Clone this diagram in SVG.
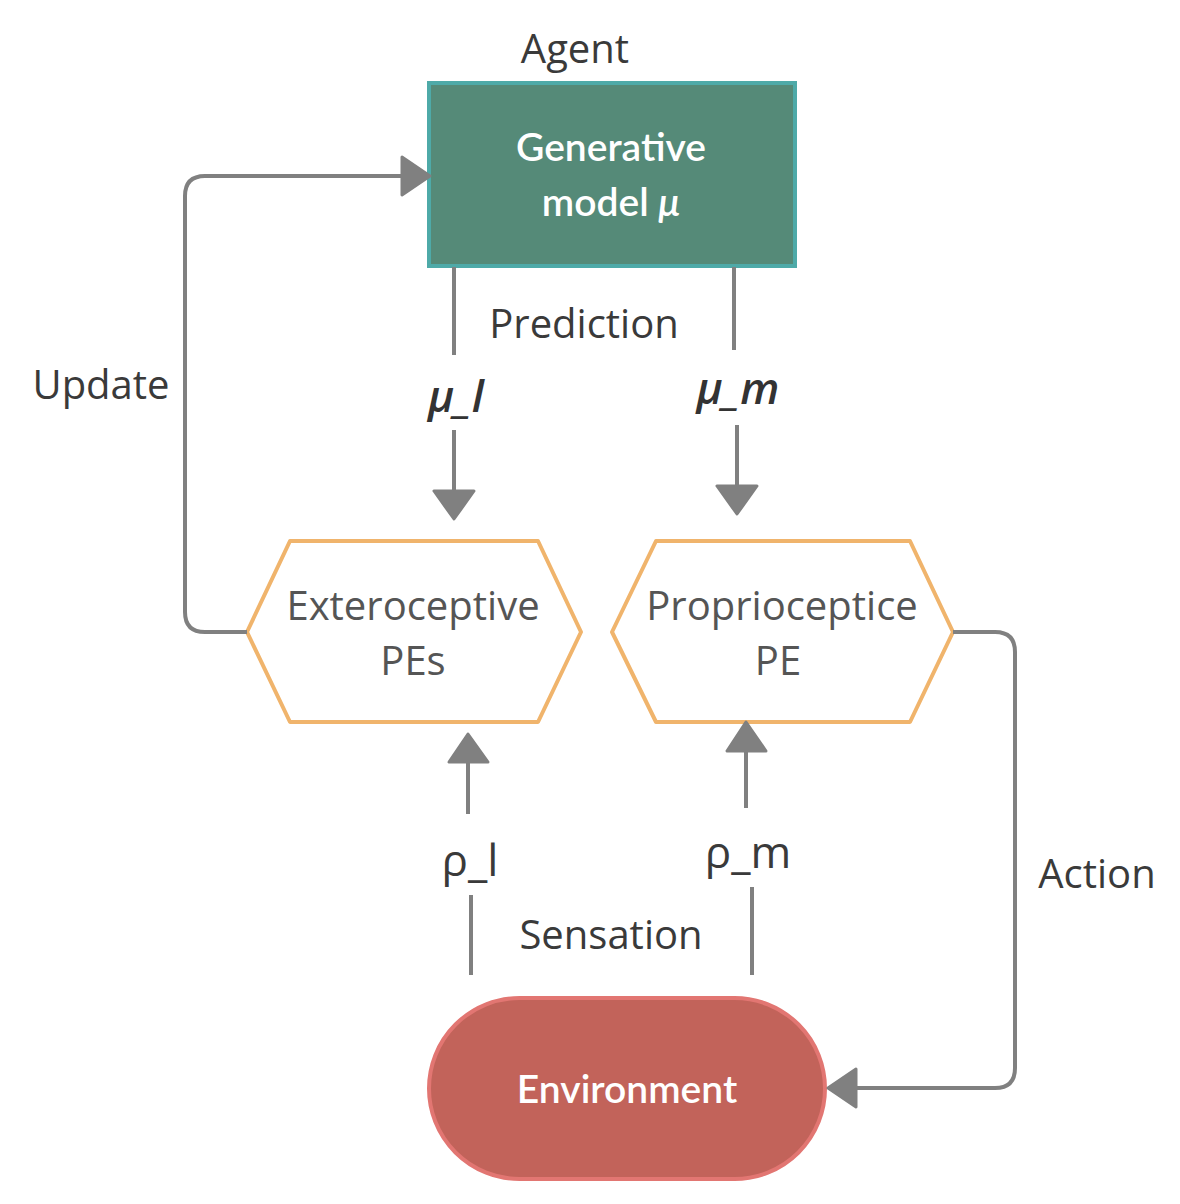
<svg xmlns="http://www.w3.org/2000/svg" width="1180" height="1204" viewBox="0 0 1180 1204">
<style>
.lbl{font-family:"Open Sans","Liberation Sans",sans-serif;font-size:40px;fill:#3a3a3a}
.rho{font-family:"Open Sans","Liberation Sans",sans-serif;font-size:44px;fill:#3a3a3a;text-anchor:middle}
.hx{font-family:"Open Sans","Liberation Sans",sans-serif;font-size:40px;fill:#555;text-anchor:middle}
.wt{font-family:Lato,"Open Sans",sans-serif;font-size:39px;font-weight:600;fill:#fff;text-anchor:middle}
.mu{font-family:"Open Sans","Liberation Sans",sans-serif;font-size:44px;font-weight:600;fill:#333;font-style:italic;text-anchor:middle}
.c{fill:none;stroke:#808080;stroke-width:4}
.ah{fill:#808080;stroke:#808080;stroke-width:3;stroke-linejoin:round}
</style>
<rect width="1180" height="1204" fill="#fff"/>
<text class="lbl" x="575" y="63" text-anchor="middle">Agent</text>
<g id="generative">
<rect x="429" y="83" width="366" height="183" fill="#558a78" stroke="#4eaaa8" stroke-width="4"/>
<text class="wt" x="611" y="161">Generative</text>
<text class="wt" x="611" y="216">model <tspan font-style="italic">μ</tspan></text>
</g>
<g id="extero">
<polygon points="247,632 290,541 538,541 581,632 538,722 290,722" fill="#fff" stroke="#f0b46c" stroke-width="4" stroke-linejoin="round"/>
<text class="hx" x="413" y="620">Exteroceptive</text>
<text class="hx" x="413" y="675">PEs</text>
</g>
<g id="proprio">
<polygon points="612,632 656,541 910,541 953,632 910,722 656,722" fill="#fff" stroke="#f0b46c" stroke-width="4" stroke-linejoin="round"/>
<text class="hx" x="782" y="620">Proprioceptice</text>
<text class="hx" x="778" y="675">PE</text>
</g>
<g id="environment">
<rect x="429" y="998" width="396" height="181" rx="90.5" fill="#c2635a" stroke="#e27672" stroke-width="4"/>
<text class="wt" x="627" y="1103">Environment</text>
</g>
<g id="connectors">
<path class="c" d="M247,632 H205 Q185,632 185,612 V196 Q185,176 205,176 H404"/>
<polygon class="ah" points="402,157 430,176 402,195"/>
<path class="c" d="M953,632 H995 Q1015,632 1015,652 V1068 Q1015,1088 995,1088 H855"/>
<polygon class="ah" points="856,1069 828,1088 856,1107"/>
<line class="c" x1="454" y1="267" x2="454" y2="355"/>
<line class="c" x1="734" y1="267" x2="734" y2="350"/>
<line class="c" x1="454" y1="430" x2="454" y2="492"/>
<polygon class="ah" points="434,491 474,491 454,519"/>
<line class="c" x1="737" y1="425" x2="737" y2="487"/>
<polygon class="ah" points="717,486 757,486 737,514"/>
<line class="c" x1="471" y1="895" x2="471" y2="975"/>
<line class="c" x1="468" y1="814" x2="468" y2="760"/>
<polygon class="ah" points="449,762 488,762 468,734"/>
<line class="c" x1="752" y1="887" x2="752" y2="975"/>
<line class="c" x1="746" y1="808" x2="746" y2="750"/>
<polygon class="ah" points="727,751 766,751 746,722"/>
</g>
<text class="lbl" x="584" y="338" text-anchor="middle">Prediction</text>
<text class="mu" x="456" y="412">μ_l</text>
<text class="mu" x="738" y="404">μ_m</text>
<text class="lbl" x="101" y="399" text-anchor="middle">Update</text>
<text class="lbl" x="1097" y="888" text-anchor="middle">Action</text>
<text class="rho" x="470" y="876">ρ_l</text>
<text class="rho" x="748" y="868">ρ_m</text>
<text class="lbl" x="611" y="949" text-anchor="middle">Sensation</text>
</svg>
